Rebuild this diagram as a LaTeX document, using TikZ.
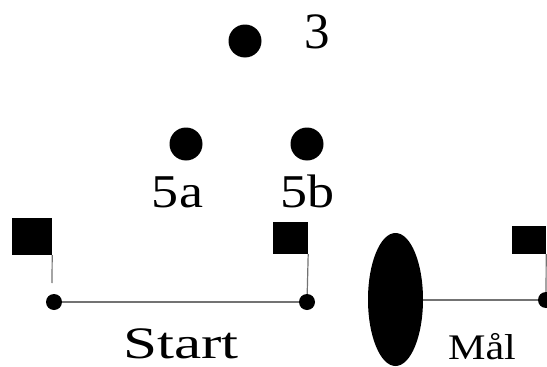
\documentclass[tikz,border=0pt]{standalone}
\usepackage{fontspec}
\setmainfont{Liberation Serif}
\usetikzlibrary{shapes.geometric}
\begin{document}
\begin{tikzpicture}[x=1pt,y=-1pt,
  bigdot/.style={circle,fill=black,inner sep=0pt,minimum size=33pt},
  footdot/.style={circle,fill=black,inner sep=0pt,minimum size=16pt},
  flagsq/.style={rectangle,fill=black,inner sep=0pt},
  pole/.style={draw=black!55,line width=1.2pt},
  lbl/.style={inner sep=0pt,anchor=base}]
\useasboundingbox (0,0) rectangle (547,367);
% points
\node[bigdot] (d3) at (245,41) {};
\node[bigdot] (d5a) at (186,144) {};
\node[bigdot] (d5b) at (307,144) {};
\node[lbl] (l3) at (317.5,48) {\fontsize{51}{51}\selectfont 3};
\node[lbl] (l5a) at (177.5,207) {\fontsize{47}{47}\selectfont\scalebox{1.15}[1]{5a}};
\node[lbl] (l5b) at (307.5,207) {\fontsize{47}{47}\selectfont\scalebox{1.15}[1]{5b}};
% start line
\node[flagsq,minimum width=40pt,minimum height=37pt] (sqA) at (32,236.5) {};
\node[flagsq,minimum width=35pt,minimum height=32pt] (sqB) at (290.5,238) {};
\node[footdot] (fA) at (54,302) {};
\node[footdot] (fB) at (307,302) {};
\coordinate (gapA) at (52,283);
\draw[pole] (sqA.south east) -- (gapA);
\draw[pole] (sqB.south east) -- (fB);
\draw[pole] (fA) -- (fB);
\node[lbl] (lStart) at (181,358) {\fontsize{45}{45}\selectfont\scalebox{1.36}[1]{Start}};
% goal
\node[ellipse,fill=black,inner sep=0pt,minimum width=55pt,minimum height=133pt] (goal) at (395.5,299.5) {};
\node[flagsq,minimum width=34pt,minimum height=28pt] (sqC) at (529,240) {};
\node[footdot] (fC) at (546,300) {};
\draw[pole] (sqC.south east) -- (fC);
\draw[pole] (goal.east |- fC) -- (fC);
\node[lbl] (lMal) at (482,359) {\fontsize{36}{36}\selectfont\scalebox{1.17}[1]{Mål}};
\end{tikzpicture}
\end{document}
